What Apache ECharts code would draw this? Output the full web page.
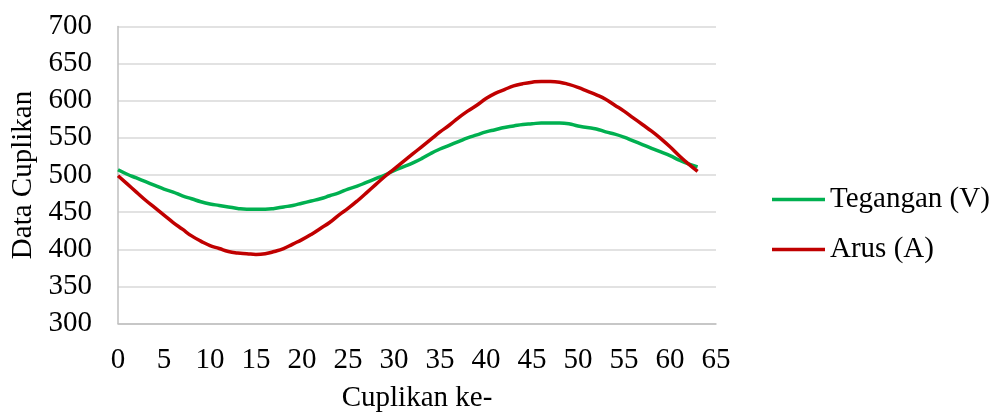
<!DOCTYPE html>
<html>
<head>
<meta charset="utf-8">
<script src="https://cdn.jsdelivr.net/npm/echarts@6/dist/echarts.min.js"></script>
<style>
html,body{margin:0;padding:0;background:#fff;}
#chart{width:993px;height:414px;}
</style>
</head>
<body>
<div id="chart"></div>
<script>
const sampleIndex = [];
for (let i = 0; i < 64; i++) sampleIndex.push(i);

const teganganV = [
  507, 501, 496, 491, 486, 481, 477, 472, 468, 464,
  461, 459, 457, 455, 454, 454, 454, 455, 457, 459,
  462, 465, 468, 472, 476, 481, 485, 490, 495, 500,
  506, 511, 516, 522, 529, 535, 540, 545, 550, 554,
  558, 561, 564, 566, 568, 569, 570, 570, 570, 569,
  566, 564, 562, 558, 555, 551, 546, 541, 536, 531,
  526, 520, 515, 511
];

const arusA = [
  499, 488, 477, 466, 456, 446, 436, 427, 418, 411,
  405, 401, 397, 395, 394, 393, 394, 397, 401, 407,
  413, 420, 428, 436, 446, 455, 465, 476, 487, 498,
  508, 518, 528, 538, 548, 558, 567, 577, 586, 594,
  603, 610, 615, 620, 623, 625, 626, 626, 625, 622,
  618, 613, 608, 602, 594, 586, 577, 568, 559, 549,
  538, 526, 515, 505
];

const seriesNames = ['Tegangan (V)', 'Arus (A)'];
const xAxisTitle = 'Cuplikan ke-';
const yAxisTitle = 'Data Cuplikan';

const font = '"Liberation Serif", "Times New Roman", serif';
const chart = echarts.init(document.getElementById('chart'));

function pairs(vals) { return sampleIndex.map((x, i) => [x, vals[i]]); }

chart.setOption({
  animation: false,
  backgroundColor: '#ffffff',
  grid: { left: 118, right: 277, top: 26.5, bottom: 90.5, containLabel: false, outerBoundsMode: 'none' },
  xAxis: {
    type: 'value', min: 0, max: 65, interval: 5,
    name: xAxisTitle, nameLocation: 'middle', nameGap: 60,
    nameTextStyle: { fontFamily: font, fontSize: 29, color: '#000' },
    axisLine: { show: true, lineStyle: { color: '#BFBFBF', width: 1.5 } },
    axisTick: { show: false },
    splitLine: { show: false },
    axisLabel: { fontFamily: font, fontSize: 29, color: '#000', margin: 22 }
  },
  yAxis: {
    type: 'value', min: 300, max: 700, interval: 50,
    name: yAxisTitle, nameLocation: 'middle', nameGap: 78, nameRotate: 90,
    nameTextStyle: { fontFamily: font, fontSize: 29, color: '#000' },
    axisLine: { show: true, lineStyle: { color: '#BFBFBF', width: 1.5 } },
    axisTick: { show: false },
    splitLine: { show: true, lineStyle: { color: '#D9D9D9', width: 1.5 } },
    axisLabel: { fontFamily: font, fontSize: 29, color: '#000', margin: 26 }
  },
  legend: {
    orient: 'vertical', left: 767, top: 180,
    icon: 'rect', itemWidth: 53, itemHeight: 3.5, itemGap: 21,
    textStyle: { fontFamily: font, fontSize: 29, lineHeight: 28, color: '#000' },
    data: seriesNames
  },
  series: [
    { name: seriesNames[0], type: 'line', data: pairs(teganganV), smooth: true,
      symbol: 'none', lineStyle: { color: '#00B050', width: 3.5 }, itemStyle: { color: '#00B050' } },
    { name: seriesNames[1], type: 'line', data: pairs(arusA), smooth: true,
      symbol: 'none', lineStyle: { color: '#C00000', width: 3.5 }, itemStyle: { color: '#C00000' } }
  ]
});
</script>
</body>
</html>
